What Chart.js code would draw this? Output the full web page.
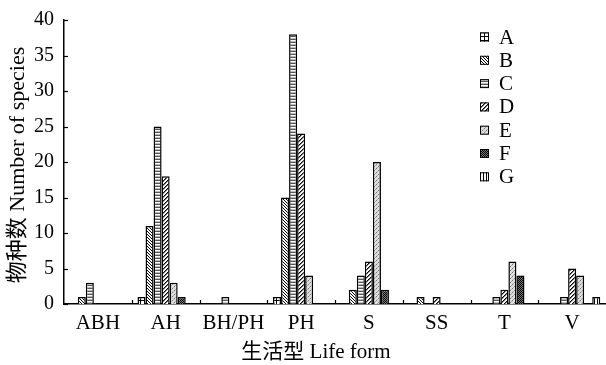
<!DOCTYPE html>
<html>
<head>
<meta charset="utf-8">
<script src="https://cdn.jsdelivr.net/npm/chart.js@4"></script>
<style>
  html, body { margin: 0; padding: 0; background: #fff; }
  #box { width: 606px; height: 365px; }
</style>
</head>
<body>
<div id="box"><canvas id="myCanvas"></canvas></div>
<script>
// life forms on the x axis
let categorie = ["ABH", "AH", "BH/PH", "PH", "S", "SS", "T", "V"];
let serieNomi = ["A", "B", "C", "D", "E", "F", "G"];

// number of species per series
let serieA = [0, 1, 0, 1, 0, 0, 0, 0];
let serieB = [1, 11, 0, 15, 2, 1, 0, 0];
let serieC = [3, 25, 1, 38, 4, 0, 1, 1];
let serieD = [0, 18, 0, 24, 6, 1, 2, 5];
let serieE = [0, 3, 0, 4, 20, 0, 6, 4];
let serieF = [0, 1, 0, 0, 2, 0, 4, 0];
let serieG = [0, 0, 0, 0, 0, 0, 0, 1];

let yTicks = [0, 5, 10, 15, 20, 25, 30, 35, 40];

let font = "'Liberation Serif', 'Noto Sans CJK SC', serif";

// small tiles used as fill patterns
function tile(w, h, disegna) {
  let c = document.createElement("canvas");
  c.width = w;
  c.height = h;
  let g = c.getContext("2d");
  g.fillStyle = "#fff";
  g.fillRect(0, 0, w, h);
  disegna(g);
  return document.createElement("canvas").getContext("2d").createPattern(c, "repeat");
}

function px(g, x, y, col) {
  g.fillStyle = col;
  g.fillRect(x, y, 1, 1);
}

let pattern = [
  // A grid
  tile(4, 4, g => { g.fillStyle = "#000"; g.fillRect(0, 0, 4, 1); g.fillRect(0, 0, 1, 4); }),
  // B backslash
  tile(3, 3, g => { for (let i = 0; i < 3; i++) px(g, i, i, "#000"); }),
  // C horizontal
  tile(1, 3, g => { px(g, 0, 0, "#555"); px(g, 0, 1, "#fff"); px(g, 0, 2, "#bbb"); }),
  // D slash
  tile(4, 4, g => { for (let i = 0; i < 4; i++) { px(g, i, 3 - i, "#000"); px(g, (i + 1) % 4, 3 - i, "#777"); } }),
  // E light dots
  tile(4, 4, g => {
    g.fillStyle = "#dedede"; g.fillRect(0, 0, 4, 4);
    px(g, 0, 0, "#777"); px(g, 2, 2, "#777"); px(g, 1, 3, "#aaa"); px(g, 3, 1, "#aaa");
  }),
  // F dark check
  tile(2, 2, g => { px(g, 0, 0, "#000"); px(g, 1, 1, "#000"); px(g, 1, 0, "#777"); px(g, 0, 1, "#777"); }),
  // G vertical
  tile(3, 1, g => { px(g, 0, 0, "#000"); })
];

let valori = [serieA, serieB, serieC, serieD, serieE, serieF, serieG];

let datasets = serieNomi.map((nome, i) => ({
  label: nome,
  data: valori[i],
  backgroundColor: pattern[i],
  borderColor: "#000",
  borderWidth: ctx => (ctx.raw ? 1.5 : 0),
  borderSkipped: "bottom",
  categoryPercentage: 0.83,
  barPercentage: 1.0
}));

// inward tick marks, axis titles and legend
let extra = {
  id: "extra",
  afterDraw(chart) {
    let ctx = chart.ctx;
    let area = chart.chartArea;
    let x = chart.scales.x;
    let y = chart.scales.y;
    ctx.save();
    ctx.strokeStyle = "#000";
    ctx.lineWidth = 1.2;
    yTicks.forEach(v => {
      let py = Math.round(y.getPixelForValue(v)) + 0.5;
      ctx.beginPath();
      ctx.moveTo(area.left, py);
      ctx.lineTo(area.left + 4, py);
      ctx.stroke();
    });
    for (let i = 0; i < categorie.length - 1; i++) {
      let bx = Math.round((x.getPixelForValue(i) + x.getPixelForValue(i + 1)) / 2) + 0.5;
      ctx.beginPath();
      ctx.moveTo(bx, area.bottom);
      ctx.lineTo(bx, area.bottom - 4);
      ctx.stroke();
    }

    // x title
    ctx.fillStyle = "#000";
    ctx.font = "21px " + font;
    ctx.textAlign = "center";
    ctx.textBaseline = "middle";
    ctx.fillText("生活型 Life form", 316, 352);

    // y title
    ctx.font = "22px " + font;
    ctx.translate(18, 165);
    ctx.rotate(-Math.PI / 2);
    ctx.fillText("物种数 Number of species", 0, 0);
    ctx.restore();

    // legend
    ctx.save();
    ctx.font = "21px " + font;
    ctx.textBaseline = "middle";
    ctx.textAlign = "left";
    chart.data.datasets.forEach((ds, i) => {
      let cy = 37 + i * 23.3;
      ctx.fillStyle = ds.backgroundColor;
      ctx.fillRect(480, cy - 4.5, 9, 9);
      ctx.strokeStyle = "#000";
      ctx.lineWidth = 1;
      ctx.strokeRect(480.5, cy - 4, 8, 8);
      ctx.fillStyle = "#000";
      ctx.fillText(ds.label, 499, cy + 1);
    });
    ctx.restore();
  }
};

let chart = new Chart(document.querySelector("#myCanvas").getContext("2d"), {
  type: "bar",
  data: { labels: categorie, datasets: datasets },
  plugins: [extra],
  options: {
    responsive: true,
    maintainAspectRatio: false,
    animation: false,
    layout: { padding: { top: 14, right: 0, bottom: 0, left: 0 } },
    plugins: {
      legend: { display: false },
      tooltip: { enabled: false }
    },
    scales: {
      x: {
        grid: { display: false, drawTicks: false },
        border: { color: "#000", width: 1.5 },
        ticks: { color: "#000", font: { family: font, size: 21 }, padding: 7, maxRotation: 0, autoSkip: false },
        afterFit: s => { s.height = 61; }
      },
      y: {
        min: 0,
        max: 40,
        grid: { display: false, drawTicks: false },
        border: { color: "#000", width: 1.5 },
        ticks: {
          stepSize: 5,
          color: "#000",
          font: { family: font, size: 20, lineHeight: 1 },
          padding: 10
        },
        afterFit: s => { s.width = 64; }
      }
    }
  }
});
</script>
</body>
</html>
